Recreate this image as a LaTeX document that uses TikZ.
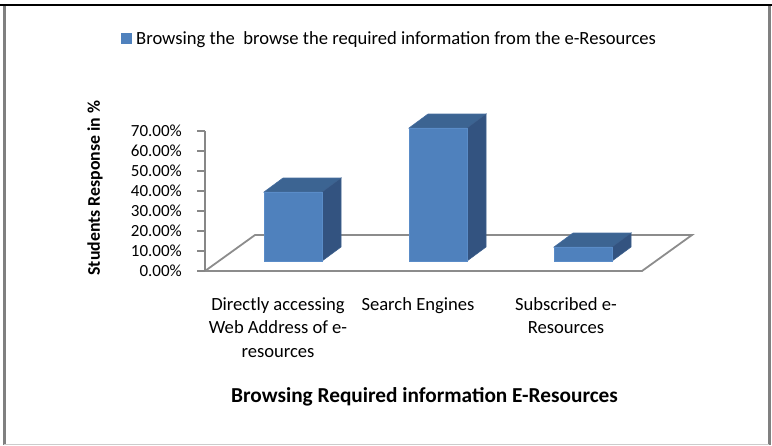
\documentclass[tikz,border=0pt]{standalone}
\usepackage{fontspec}
\setmainfont{Carlito}
\begin{document}
\begin{tikzpicture}[x=1pt,y=-1pt,
  axisline/.style={draw=black!47,line width=2pt},
  floorline/.style={draw=black!45,line width=1.8pt},
  frontface/.style={fill={rgb,255:red,79;green,129;blue,189},draw={rgb,255:red,90;green,140;blue,200},line width=0.6pt},
  topface/.style={fill={rgb,255:red,60;green,100;blue,146},draw={rgb,255:red,70;green,110;blue,160},line width=0.6pt},
  sideface/.style={fill={rgb,255:red,51;green,83;blue,128},draw={rgb,255:red,60;green,95;blue,140},line width=0.6pt},
  ticklbl/.style={anchor=east,inner sep=0pt,font=\fontsize{17}{20}\selectfont},
  catlbl/.style={align=center,inner sep=0pt,font=\fontsize{18.6}{23.5}\selectfont},
]
\useasboundingbox (0,0) rectangle (772,445);
% frame
\draw[black!50,line width=3pt] (4,5) -- (4,445);
\draw[black!50,line width=3pt] (769,5) -- (769,445);
\draw[black!20,line width=1pt] (4,444) -- (769,444);
\draw[black,line width=2.5pt] (0,5) -- (772,5);

% legend
\node[fill={rgb,255:red,79;green,129;blue,189},minimum width=10.5pt,minimum height=10.5pt,inner sep=0pt] (legsq) at (126.5,38.5) {};
\node[anchor=west,inner sep=0pt,font=\fontsize{18.6}{20}\selectfont] (legtxt) at (136,39.5) {Browsing the\ \ browse the required information from the e-Resources};

% floor
\coordinate (f1) at (205,271);
\coordinate (f2) at (642,271);
\coordinate (f3) at (692,235);
\coordinate (f4) at (255,235);
\draw[floorline] (f4) -- (f3) -- (f2) -- (f1) -- cycle;

% axis
\coordinate (ax0) at (205,271);
\coordinate (ax7) at (205,131);
\draw[axisline] (ax0) -- (ax7);
\foreach \i/\lab in {0/0.00\%,1/10.00\%,2/20.00\%,3/30.00\%,4/40.00\%,5/50.00\%,6/60.00\%,7/70.00\%}{
  \draw[axisline] (197,271-20*\i) -- (205,271-20*\i);
  \node[ticklbl] (t\i) at (182,271-20*\i) {\lab};
}

% bars
\foreach \n/\xa/\xb/\yt in {1/264/322/192, 2/409/467/128, 3/554/612/247}{
  \fill[frontface] (\xa,\yt) rectangle (\xb,261);
  \draw[topface] (\xa,\yt) -- (\xa+19,\yt-14) -- (\xb+19,\yt-14) -- (\xb,\yt) -- cycle;
  \draw[sideface] (\xb,\yt) -- (\xb+19,\yt-14) -- (\xb+19,261-14) -- (\xb,261) -- cycle;
  \draw[frontface] (\xa,\yt) rectangle (\xb,261);
  \coordinate (bar\n) at (\xa,\yt);
}

% axis title
\node[rotate=90,inner sep=0pt,font=\bfseries\fontsize{17.8}{20}\selectfont] (ytitle) at (95,188) {Students Response in \%};

% category labels
\node[catlbl,anchor=north] (c1) at (278,297) {Directly accessing\\Web Address of e-\\resources};
\node[catlbl,anchor=north] (c2) at (418,297) {Search Engines};
\node[catlbl,anchor=north] (c3) at (566,297) {Subscribed e-\\Resources};

% x title
\node[inner sep=0pt,font=\bfseries\fontsize{21.3}{24}\selectfont] (xtitle) at (424.5,397) {Browsing Required information E-Resources};
\end{tikzpicture}
\end{document}
